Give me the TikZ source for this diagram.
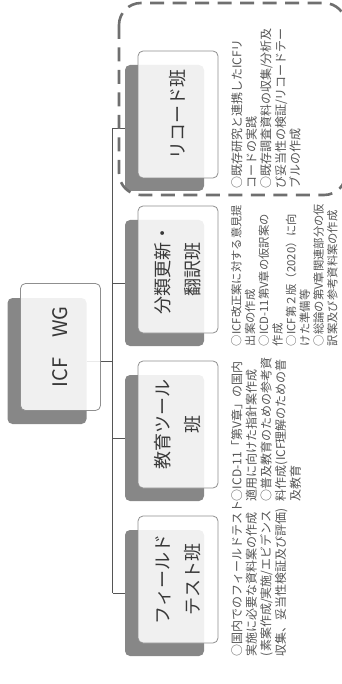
\documentclass[tikz,border=0pt]{standalone}
\usepackage{fontspec}
\setmainfont{Noto Sans CJK JP}
\usetikzlibrary{calc}
\definecolor{shade}{HTML}{878787}
\definecolor{edge}{HTML}{8F8F8F}
\definecolor{ink}{HTML}{383838}
\definecolor{note}{HTML}{555555}
\definecolor{wire}{HTML}{555555}
\definecolor{frame}{HTML}{6F6F6F}
\newcommand\memofont{\fontsize{12}{14.6}\selectfont\lineskiplimit-20pt\relax}
\newcommand\densefont{\fontsize{11.3}{13.7}\selectfont\lineskiplimit-20pt\relax}

\begin{document}
\begin{tikzpicture}[x=1pt,y=-1pt,
  back/.style={fill=shade,rounded corners=5pt,minimum width=79pt,minimum height=126pt,inner sep=0pt},
  card/.style={draw=edge,line width=0.8pt,fill=white,fill opacity=0.88,text opacity=1,rounded corners=5pt,
    minimum width=127pt,minimum height=80pt,rotate=90,align=center,text=ink,font=\fontsize{18}{30}\selectfont},
  memo/.style={rotate=90,anchor=north west,inner sep=0pt,text width=180pt,align=left,text=note,font=\memofont},
  wire/.style={draw=wire,line width=0.9pt}]
  \useasboundingbox (0,0) rectangle (342,684);
  % shadows
  \node[back] (wg) at (47,361) {};
  \foreach \n/\y in {g1/128,g2/283,g3/438,g4/593}
    \node[back] (\n) at (164.5,\y) {};
  % tree
  \draw[wire] (wg.east) -- ++(26,0) coordinate (hub);
  \draw[wire] (hub |- g1.west) -- (hub |- g4.west);
  \foreach \n in {g1,g2,g3,g4}
    \draw[wire] (hub |- \n.west) -- (\n.west);
  % cards
  \node[card,font=\fontsize{20}{24}\selectfont] (wgc) at ($(wg)+(13.5,-14)$) {ICF　WG};
  \foreach \n/\t in {g1/リコード班,g2/分類更新・\\翻訳班,g3/教育ツール\\班,g4/フィールド\\テスト班}
    \node[card] (\n c) at ($(\n)+(13.5,-13.5)$) {\t};
  % notes
  \node[memo] (m1) at ($(g1.south)+(66.5,-2)$)
    {○既存研究と連携したICFリ\\コードの実践\\○既存調査資料の収集/分析及\\び妥当性の検証/リコードテー\\ブルの作成};
  \node[memo,font=\densefont] (m2) at ($(g2.south)+(66.5,0)$)
    {○ICF改正案に対する意見提\\出案の作成\\○ICD-11第V章の仮訳案の\\作成\\○ICF第２版（2020）に向\\けた準備等\\○総論の第V章関連部分の仮\\訳案及び参考資料案の作成};
  \node[memo] (m3) at ($(g3.south)+(66.5,0)$)
    {○ICD-11「第V章」の国内\\適用に向けた指針案作成\\○普及教育のための参考資\\料作成(ICF理解のための普\\及教育};
  \node[memo] (m4) at ($(g4.south)+(66.5,0)$)
    {○国内でのフィールドテスト\\実施に必要な資料案の作成\\(素案作成/実施/エビデンス\\収集、妥当性検証及び評価)};
  % recode group frame
  \draw[frame,line width=2.6pt,dash pattern=on 14pt off 8.5pt,rounded corners=22pt]
    (119,3) rectangle (346,195);
\end{tikzpicture}
\end{document}
